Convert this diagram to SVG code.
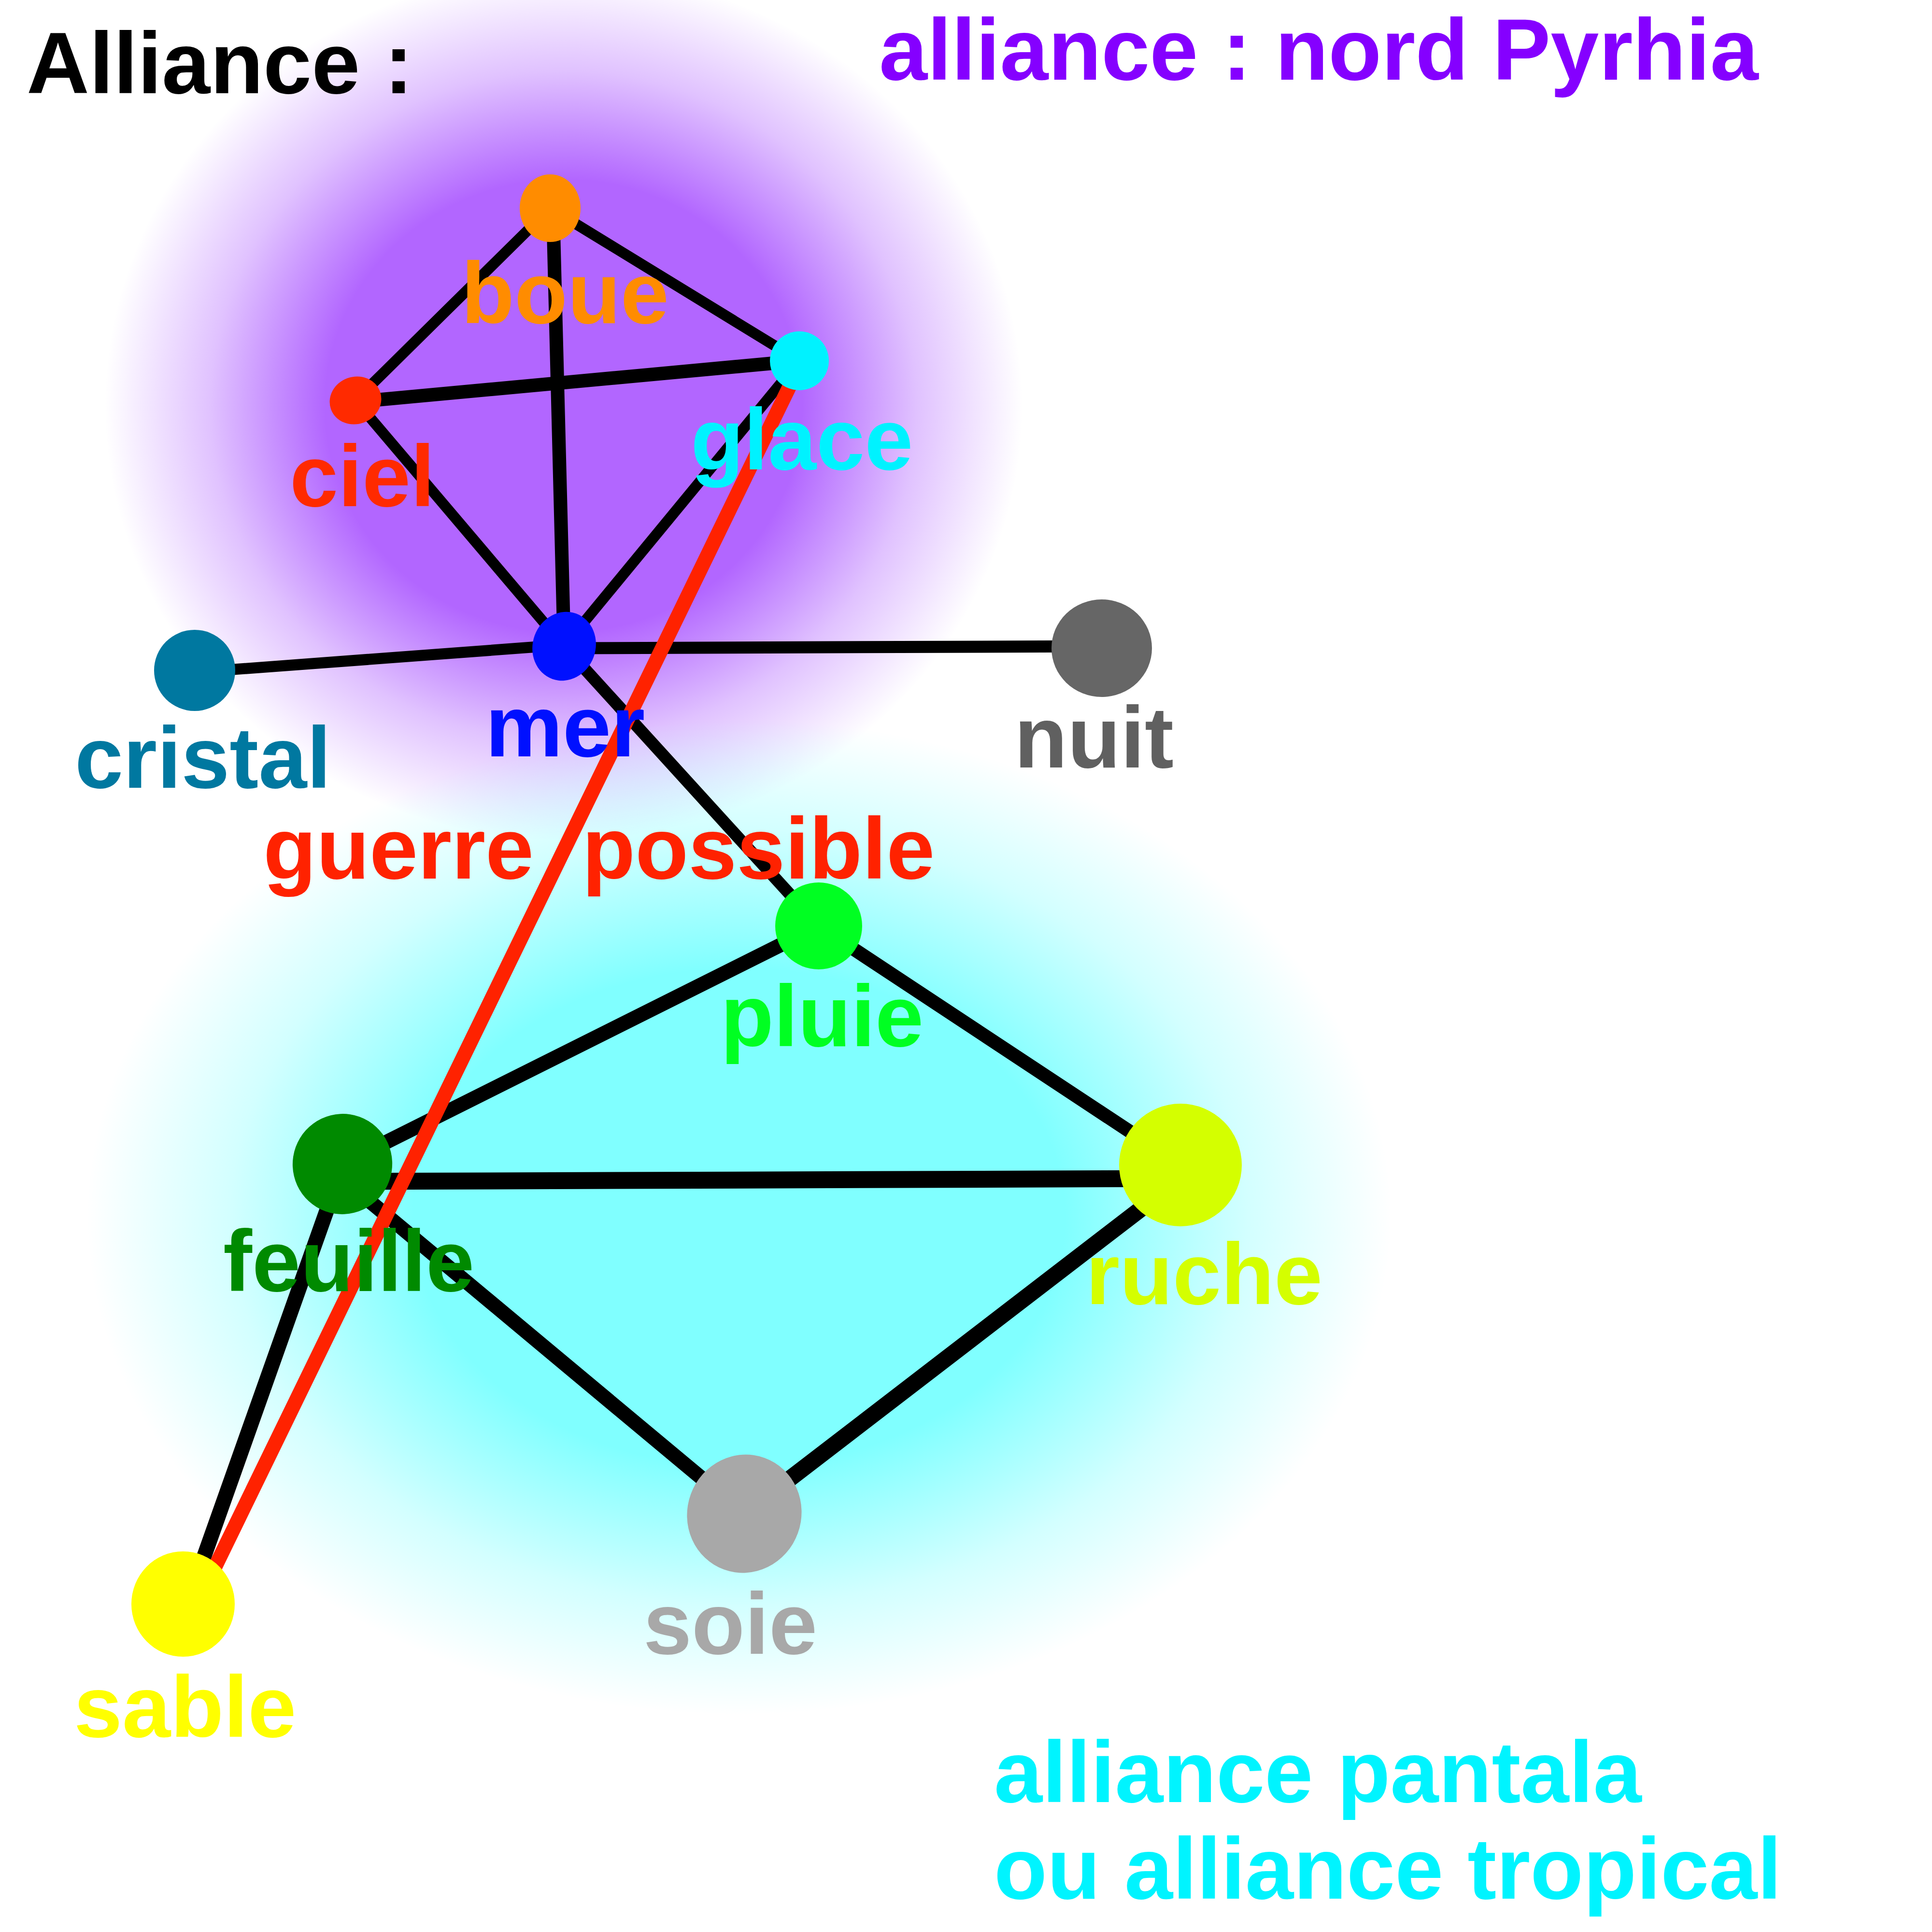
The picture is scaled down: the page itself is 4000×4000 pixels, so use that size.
<svg xmlns="http://www.w3.org/2000/svg" width="4000" height="4000" viewBox="0 0 4000 4000">
<defs>
<radialGradient id="gPurple" cx="0.5" cy="0.5" r="0.5">
<stop offset="0" stop-color="#b266ff" stop-opacity="1"/>
<stop offset="0.52" stop-color="#b266ff" stop-opacity="1"/>
<stop offset="0.77" stop-color="#b266ff" stop-opacity="0.4"/>
<stop offset="1" stop-color="#b266ff" stop-opacity="0"/>
</radialGradient>
<radialGradient id="gCyan" cx="0.5" cy="0.5" r="0.5">
<stop offset="0" stop-color="#80ffff" stop-opacity="1"/>
<stop offset="0.5" stop-color="#80ffff" stop-opacity="1"/>
<stop offset="0.78" stop-color="#80ffff" stop-opacity="0.35"/>
<stop offset="1" stop-color="#80ffff" stop-opacity="0"/>
</radialGradient>
<style>
text{font-family:"Liberation Sans",Arial,sans-serif;font-weight:bold;font-size:180px}
.e{stroke:#000;fill:none;stroke-linecap:round}
.war{stroke:#ff2200;fill:none;stroke-width:30;stroke-linecap:round}
</style>
</defs>
<rect width="4000" height="4000" fill="#fff"/>
<g id="glows">
<ellipse cx="1167" cy="840" rx="950" ry="900" fill="url(#gPurple)"/>
<ellipse cx="1530" cy="2520" rx="1350" ry="1030" fill="url(#gCyan)"/>
</g>
<g id="connectors">
<line class="e" x1="1139" y1="431" x2="736" y2="829" stroke-width="22"/>
<line class="e" x1="1139" y1="431" x2="1655" y2="747" stroke-width="22"/>
<line class="e" x1="1145" y1="440" x2="1168" y2="1338" stroke-width="28"/>
<line class="e" x1="736" y1="832" x2="1655" y2="747" stroke-width="28"/>
<line class="e" x1="736" y1="829" x2="1168" y2="1338" stroke-width="22"/>
<line class="e" x1="1655" y1="747" x2="1168" y2="1338" stroke-width="22"/>
<line class="e" x1="403" y1="1392" x2="1168" y2="1335" stroke-width="23"/>
<line class="e" x1="1168" y1="1342" x2="2281" y2="1338" stroke-width="25"/>
<line class="e" x1="1168" y1="1338" x2="1695" y2="1917" stroke-width="25"/>
<line class="e" x1="1695" y1="1917" x2="709" y2="2410" stroke-width="30"/>
<line class="e" x1="1695" y1="1917" x2="2444" y2="2412" stroke-width="28"/>
<line class="e" x1="709" y1="2446" x2="2444" y2="2440" stroke-width="35"/>
<line class="e" x1="709" y1="2440" x2="1541" y2="3134" stroke-width="30"/>
<line class="e" x1="2444" y1="2440" x2="1541" y2="3134" stroke-width="34"/>
<line class="e" x1="700" y1="2440" x2="395" y2="3300" stroke-width="31"/>
<line class="war" x1="1642" y1="785" x2="440" y2="3255"/>
</g>
<g id="node-boue"><ellipse cx="1139" cy="431" rx="63" ry="70" fill="#ff8c00"/><text x="955" y="669" fill="#ff8c00">boue</text></g>
<g id="node-glace"><ellipse cx="1655" cy="747" rx="61" ry="61" fill="#00f2ff"/><text x="1430" y="972" fill="#00f2ff">glace</text></g>
<g id="node-ciel"><ellipse cx="736" cy="829" rx="54" ry="49" fill="#ff2a00" transform="rotate(-20 736 829)"/><text x="600" y="1048" fill="#ff2a00">ciel</text></g>
<g id="node-mer"><ellipse cx="1168" cy="1338" rx="65" ry="72" fill="#0010ff" transform="rotate(20 1168 1338)"/><text x="1005" y="1566" fill="#0010ff">mer</text></g>
<g id="node-cristal"><ellipse cx="403" cy="1388" rx="84" ry="84" fill="#0078a0"/><text x="155" y="1631" fill="#0078a0">cristal</text></g>
<g id="node-nuit"><ellipse cx="2281" cy="1342" rx="104" ry="101" fill="#666666"/><text x="2100" y="1589" fill="#606060">nuit</text></g>
<g id="label-guerre"><text x="545" y="1819" fill="#ff2200" xml:space="preserve">guerre  possible</text></g>
<g id="node-pluie"><ellipse cx="1695" cy="1917" rx="90" ry="90" fill="#00ff22"/><text x="1492" y="2166" fill="#00ff22">pluie</text></g>
<g id="node-feuille"><ellipse cx="709" cy="2410" rx="103" ry="104" fill="#008a00" transform="rotate(20 709 2410)"/><text x="462" y="2673" fill="#008a00">feuille</text></g>
<g id="node-ruche"><ellipse cx="2444" cy="2412" rx="127" ry="127" fill="#d4ff00"/><text x="2248" y="2700" fill="#d4ff00">ruche</text></g>
<g id="node-soie"><ellipse cx="1541" cy="3134" rx="118" ry="123" fill="#a8a8a8" transform="rotate(20 1541 3134)"/><text x="1332" y="3424" fill="#a8a8a8">soie</text></g>
<g id="node-sable"><ellipse cx="379" cy="3321" rx="107" ry="109" fill="#ffff00"/><text x="153" y="3596" fill="#ffff00">sable</text></g>
<g id="titles">
<text x="55" y="193" fill="#000">Alliance :</text>
<text x="1820" y="165" fill="#8500ff">alliance : nord Pyrhia</text>
<text x="2058" y="3731" fill="#00f4ff">alliance pantala</text>
<text x="2058" y="3931" fill="#00f4ff">ou alliance tropical</text>
</g>
</svg>
